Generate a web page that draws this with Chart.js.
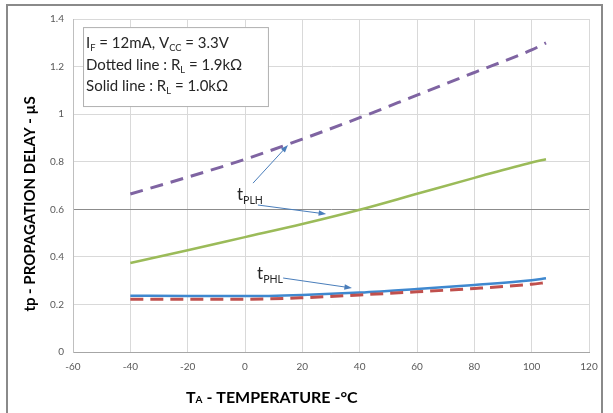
<!DOCTYPE html>
<html>
<head>
<meta charset="utf-8">
<script src="https://cdn.jsdelivr.net/npm/chart.js@4.4.1/dist/chart.umd.min.js"></script>
<style>
  html, body { margin: 0; padding: 0; background: #fff; }
  #wrap { width: 613px; height: 413px; }
</style>
</head>
<body>
<div id="wrap"><canvas id="delayChart" width="613" height="413"></canvas></div>
<script>
// Data
const temps = [-40, -20, 0, 20, 40, 60, 80, 100, 105];
const plhDotted = [0.664, 0.735, 0.81, 0.895, 0.985, 1.08, 1.175, 1.27, 1.30];
const plhSolid = [0.374, 0.428, 0.483, 0.538, 0.598, 0.665, 0.732, 0.797, 0.81];
const phlSolid = [0.237, 0.235, 0.235, 0.24, 0.25, 0.265, 0.282, 0.302, 0.31];
const phlDotted = [0.222, 0.222, 0.222, 0.228, 0.24, 0.253, 0.267, 0.285, 0.292];

const xTicks = [-60, -40, -20, 0, 20, 40, 60, 80, 100, 120];
const yTicks = [0, 0.2, 0.4, 0.6, 0.8, 1, 1.2, 1.4];

// annotation anchors, in data units
const plhLabel = { x: -2.8, y: 0.64 };
const plhArrows = [
    { from: { x: 2.8, y: 0.71 }, to: { x: 15, y: 0.87 } },
    { from: { x: 4.5, y: 0.618 }, to: { x: 28.3, y: 0.58 } },
];
const phlLabel = { x: 4.2, y: 0.305 };
const phlArrows = [
    { from: { x: 13.3, y: 0.311 }, to: { x: 37.3, y: 0.269 } },
];
const noteBox = { x1: -56.5, y1: 1.366, x2: 8, y2: 1.034 };

function pts(vals) {
    return temps.map((t, i) => ({ x: t, y: vals[i] }));
}

const font = 'Lato, "Open Sans", sans-serif';

// draws text made of plain and subscript pieces
function richText(ctx, parts, x, y, size, bold) {
    let cx = x;
    parts.forEach(p => {
        const s = p.sub ? size * 0.62 : size;
        ctx.font = (bold ? 'bold ' : '') + s + 'px ' + font;
        ctx.fillText(p.t, cx, p.sub ? y + size * 0.22 : y);
        cx += ctx.measureText(p.t).width;
    });
}

function arrow(ctx, x1, y1, x2, y2) {
    const a = Math.atan2(y2 - y1, x2 - x1);
    ctx.beginPath();
    ctx.moveTo(x1, y1);
    ctx.lineTo(x2 - 5 * Math.cos(a), y2 - 5 * Math.sin(a));
    ctx.stroke();
    ctx.beginPath();
    ctx.moveTo(x2, y2);
    ctx.lineTo(x2 - 8 * Math.cos(a - 0.35), y2 - 8 * Math.sin(a - 0.35));
    ctx.lineTo(x2 - 8 * Math.cos(a + 0.35), y2 - 8 * Math.sin(a + 0.35));
    ctx.closePath();
    ctx.fill();
}

const decorations = {
    id: 'decorations',
    beforeDraw(chart) {
        const ctx = chart.ctx;
        ctx.save();
        ctx.fillStyle = '#fff';
        ctx.fillRect(0, 0, chart.width, chart.height);
        ctx.strokeStyle = '#8a8a8a';
        ctx.lineWidth = 2;
        ctx.strokeRect(7, 5, 595, 430);
        ctx.restore();
    },
    afterDraw(chart) {
        const ctx = chart.ctx;
        const xs = chart.scales.x, ys = chart.scales.y;
        ctx.save();

        // note box
        const bx = xs.getPixelForValue(noteBox.x1), by = ys.getPixelForValue(noteBox.y1);
        const bw = xs.getPixelForValue(noteBox.x2) - bx, bh = ys.getPixelForValue(noteBox.y2) - by;
        ctx.fillStyle = '#fff';
        ctx.fillRect(bx, by, bw, bh);
        ctx.strokeStyle = '#b0b0b0';
        ctx.lineWidth = 1;
        ctx.strokeRect(bx + 0.5, by + 0.5, bw, bh);
        ctx.fillStyle = '#262626';
        ctx.textBaseline = 'alphabetic';
        ctx.textAlign = 'left';
        richText(ctx, [{ t: 'I' }, { t: 'F', sub: true }, { t: ' = 12mA, V' }, { t: 'CC', sub: true }, { t: ' = 3.3V' }], bx + 3, by + 21, 15);
        richText(ctx, [{ t: 'Dotted line : R' }, { t: 'L', sub: true }, { t: ' = 1.9k\u03A9' }], bx + 3, by + 43, 15);
        richText(ctx, [{ t: 'Solid line : R' }, { t: 'L', sub: true }, { t: ' = 1.0k\u03A9' }], bx + 3, by + 64, 15);

        // tPLH / tPHL labels
        richText(ctx, [{ t: 't' }, { t: 'PLH', sub: true }], xs.getPixelForValue(plhLabel.x), ys.getPixelForValue(plhLabel.y), 17);
        richText(ctx, [{ t: 't' }, { t: 'PHL', sub: true }], xs.getPixelForValue(phlLabel.x), ys.getPixelForValue(phlLabel.y), 17);

        ctx.strokeStyle = '#4a7ebb';
        ctx.fillStyle = '#4a7ebb';
        ctx.lineWidth = 1;
        plhArrows.concat(phlArrows).forEach(a => {
            arrow(ctx, xs.getPixelForValue(a.from.x), ys.getPixelForValue(a.from.y),
                xs.getPixelForValue(a.to.x), ys.getPixelForValue(a.to.y));
        });

        // axis titles
        ctx.fillStyle = '#000';
        ctx.textBaseline = 'middle';
        const tx = 186;
        ctx.font = 'bold 16px ' + font;
        ctx.fillText('T', tx, 398);
        let w = ctx.measureText('T').width;
        ctx.font = 'bold 10px ' + font;
        ctx.fillText('A', tx + w, 400);
        w += ctx.measureText('A').width;
        ctx.font = 'bold 16px ' + font;
        ctx.fillText(' - TEMPERATURE -\u00B0C', tx + w, 398);

        ctx.translate(30, 204);
        ctx.rotate(-Math.PI / 2);
        ctx.textAlign = 'center';
        ctx.font = 'bold 15px ' + font;
        ctx.fillText('tp - PROPAGATION DELAY - \u00B5S', 0, 0);
        ctx.restore();
    }
};

const ctx = document.getElementById('delayChart').getContext('2d');
const delayChart = new Chart(ctx, {
    type: 'scatter',
    data: {
        datasets: [
            {
                label: 'tPLH RL=1.0k',
                data: pts(plhSolid),
                borderColor: '#9bbb59',
                borderWidth: 2.5,
            },
            {
                label: 'tPLH RL=1.9k',
                data: pts(plhDotted),
                borderColor: '#7f64a2',
                borderWidth: 3,
                borderDash: [13, 8],
            },
            {
                label: 'tPHL RL=1.9k',
                data: pts(phlDotted),
                borderColor: '#c0504d',
                borderWidth: 3,
                borderDash: [13, 7],
            },
            {
                label: 'tPHL RL=1.0k',
                data: pts(phlSolid),
                borderColor: '#3f88cf',
                borderWidth: 2.5,
            },
        ],
    },
    options: {
        responsive: false,
        animation: false,
        showLine: true,
        elements: {
            point: { radius: 0 },
            line: { cubicInterpolationMode: 'monotone', fill: false },
        },
        layout: { padding: { left: 0, top: 19, right: 24, bottom: 0 } },
        plugins: {
            legend: { display: false },
            tooltip: { enabled: false },
        },
        scales: {
            x: {
                type: 'linear',
                min: -60,
                max: 120,
                afterBuildTicks: s => { s.ticks = xTicks.map(v => ({ value: v })); },
                afterFit: s => { s.height = 61; },
                grid: { color: '#d9d9d9', drawTicks: false },
                border: { color: '#a6a6a6' },
                ticks: { color: '#595959', padding: 9, font: { family: font, size: 10 }, callback: v => String(v) },
            },
            y: {
                min: 0,
                max: 1.4,
                afterBuildTicks: s => { s.ticks = yTicks.map(v => ({ value: v })); },
                afterFit: s => { s.width = 73; },
                grid: {
                    color: c => (c.tick && c.tick.value === 0.6 ? '#8c8c8c' : '#d9d9d9'),
                    drawTicks: false,
                },
                border: { color: '#bfbfbf' },
                ticks: { color: '#595959', padding: 9, font: { family: font, size: 10 }, callback: v => String(+v.toFixed(1)) },
            },
        },
    },
    plugins: [decorations],
});
</script>
</body>
</html>
